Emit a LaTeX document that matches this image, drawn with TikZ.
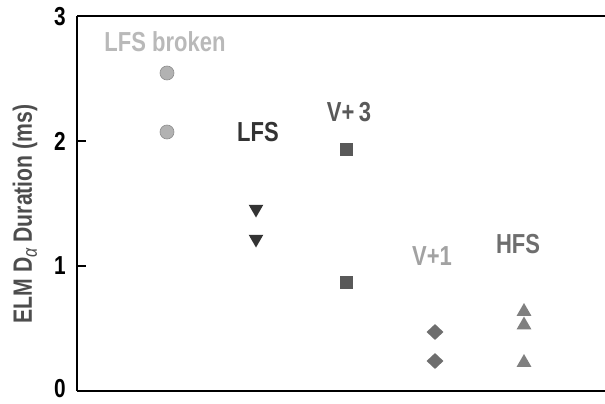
\documentclass[tikz,border=0pt]{standalone}
\usepackage{fontspec}
\setmainfont{Liberation Sans}[FakeStretch=0.8]
\usetikzlibrary{shapes.geometric}

\definecolor{brokengray}{HTML}{B9B9B9}
\definecolor{brokenfill}{HTML}{B2B2B2}
\definecolor{brokenedge}{HTML}{8E8E8E}
\definecolor{lfsgray}{HTML}{333333}
\definecolor{vthreegray}{HTML}{595959}
\definecolor{vonelabel}{HTML}{A2A2A2}
\definecolor{vonegray}{HTML}{6E6E6E}
\definecolor{hfslabel}{HTML}{6E6E6E}
\definecolor{hfsgray}{HTML}{808080}
\definecolor{axislabel}{HTML}{4D4D4D}

\newcommand{\alphasub}{\raisebox{-5pt}{\fontsize{20}{22}\selectfont\mdseries\itshape α}}

\tikzstyle{grouplabel} = [font=\fontsize{27.5}{32}\selectfont\bfseries, inner sep=0pt]
\tikzstyle{ticklabel} = [font=\fontsize{26}{30}\selectfont\bfseries, anchor=east, inner sep=0pt]
\tikzstyle{circmark} = [circle, minimum size=14pt, inner sep=0pt, fill=brokenfill, draw=brokenedge, line width=0.6pt]
\tikzstyle{downmark} = [regular polygon, regular polygon sides=3, shape border rotate=180, minimum size=17pt, inner sep=0pt, fill=lfsgray]
\tikzstyle{sqmark} = [rectangle, minimum size=13pt, inner sep=0pt, fill=vthreegray]
\tikzstyle{rhombmark} = [diamond, minimum width=17pt, minimum height=16pt, inner sep=0pt, fill=vonegray]
\tikzstyle{upmark} = [regular polygon, regular polygon sides=3, minimum size=17pt, inner sep=0pt, fill=hfsgray]

\begin{document}
\begin{tikzpicture}[x=1pt, y=-1pt]
    \useasboundingbox (0,0) rectangle (605,404);

    % frame
    \coordinate (ytop) at (77,16);
    \coordinate (origin) at (77,391);
    \coordinate (xend) at (605,391);
    \coordinate (topend) at (605,16);
    \draw [line width=1.2pt] (ytop) -- (origin);
    \draw [line width=1.6pt] (origin) -- (xend);
    \draw [line width=1.6pt] (ytop) -- (topend);
    \coordinate (tickone) at (77,266);
    \coordinate (ticktwo) at (77,141);
    \draw [line width=1.2pt] (tickone) -- +(9,0);
    \draw [line width=1.2pt] (ticktwo) -- +(9,0);

    \node (ylabzero) [ticklabel] at (66,389) {0};
    \node (ylabone) [ticklabel] at (66,266) {1};
    \node (ylabtwo) [ticklabel] at (66,141) {2};
    \node (ylabthree) [ticklabel] at (66,17) {3};
    \node (ytitle) [font=\fontsize{26.5}{30}\selectfont\bfseries, text=axislabel, rotate=90, inner sep=0pt] at (25,214) {ELM D\alphasub\ Duration (ms)};

    % groups
    \node (brokenlab) [grouplabel, text=brokengray] at (165,42) {LFS broken};
    \node (brokenhi) [circmark] at (167,73) {};
    \node (brokenlo) [circmark] at (167,132) {};

    \node (lfslab) [grouplabel, text=lfsgray] at (258,132) {LFS};
    \node (lfshi) [downmark] at (256,209) {};
    \node (lfslo) [downmark] at (256,239) {};

    \node (vthreelab) [grouplabel, text=vthreegray] at (349,112) {V+\,3};
    \node (vthreehi) [sqmark] at (346,149) {};
    \node (vthreelo) [sqmark] at (346,282) {};

    \node (vonelab) [grouplabel, text=vonelabel] at (432,256) {V+1};
    \node (vonehi) [rhombmark] at (435,332) {};
    \node (vonelo) [rhombmark] at (435,361) {};

    \node (hfslab) [grouplabel, text=hfslabel] at (518,244) {HFS};
    \node (hfshi) [upmark] at (524,311.5) {};
    \node (hfsmid) [upmark] at (524,325) {};
    \node (hfslo) [upmark] at (524,362.5) {};
\end{tikzpicture}
\end{document}
